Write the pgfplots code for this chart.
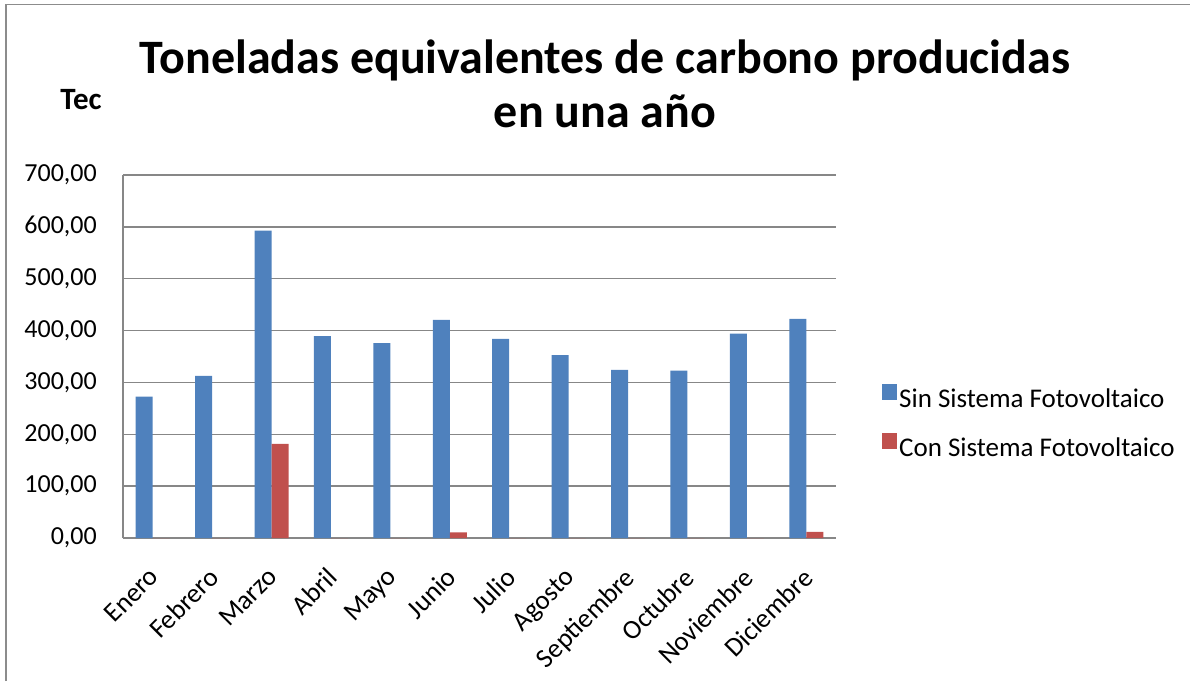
\documentclass[border=0pt]{standalone}
\usepackage{fontspec}
\setmainfont{Carlito}
\usepackage{pgfplots}
\pgfplotsset{compat=1.18}

\definecolor{sinfv}{HTML}{4F81BD}
\definecolor{confv}{HTML}{C0504D}
\definecolor{rejilla}{HTML}{878787}
\definecolor{marco}{HTML}{8C8C8C}

% Toneladas equivalentes de carbono por mes
\pgfplotstableread{
x  sin     con
0  272.8   0
1  312.7   0
2  592.7   181.7
3  389.2   0
4  375.7   0
5  420.6   10.8
6  384.0   0
7  352.6   0
8  324.3   0
9  322.9   0
10 394.2   0
11 422.5   12.0
}\datos

\begin{document}
\begin{tikzpicture}[x=1pt,y=1pt]
\useasboundingbox (0,0) rectangle (1190,681);
\draw[marco, line width=1.6pt] (6,0) -- (6,676.5) -- (1190,676.5);

\node[anchor=base, font=\fontsize{48}{58}\selectfont\bfseries] at (605,607) {Toneladas equivalentes de carbono producidas};
\node[anchor=base, font=\fontsize{48}{58}\selectfont\bfseries] at (605,553) {en una año};
\node[anchor=base, font=\fontsize{31}{36}\selectfont\bfseries] at (81,571) {Tec};

\begin{axis}[
  at={(123pt,143pt)}, anchor=south west,
  width=713pt, height=363pt, scale only axis,
  ybar=0pt, bar width=17pt,
  xmin=-0.5, xmax=11.5,
  ymin=0, ymax=700,
  ytick={0,100,...,700},
  xtick=data,
  xticklabels={Enero,Febrero,Marzo,Abril,Mayo,Junio,Julio,Agosto,Septiembre,Octubre,Noviembre,Diciembre},
  xticklabel style={xshift=-5pt, yshift=-28pt, rotate=45, anchor=north east, font=\fontsize{27}{32}\selectfont, inner sep=0pt},
  yticklabel style={font=\fontsize{26}{30}\selectfont, inner sep=0pt, xshift=-26pt},
  /pgf/number format/.cd, fixed, fixed zerofill, precision=2, use comma, 1000 sep={}, assume math mode=true,
  /pgfplots/.cd,
  major tick length=0pt,
  axis x line*=bottom, axis y line*=left,
  axis line style={rejilla, line width=1.3pt},
  ymajorgrids, grid style={rejilla, line width=1.3pt},
  legend style={draw=none, fill=none, at={(1.0645,0.32)}, anchor=west,
    font=\fontsize{27}{32}\selectfont, inner sep=0pt, row sep=22pt},
  legend cell align=left,
  legend image code/.code={\fill[#1] (-3pt,-1pt) rectangle (12pt,15pt);},
]
\addplot[fill=sinfv, draw=none] table[x=x, y=sin] {\datos};
\addplot[fill=confv, draw=none] table[x=x, y=con] {\datos};
\legend{Sin Sistema Fotovoltaico, Con Sistema Fotovoltaico}
\end{axis}
\end{tikzpicture}
\end{document}
